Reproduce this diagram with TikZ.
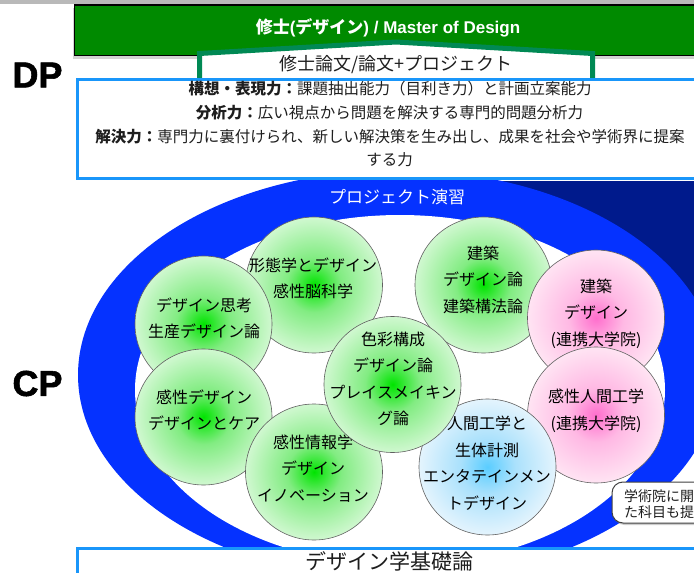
\documentclass[tikz,border=0pt]{standalone}
\usepackage{fontspec}
\setmainfont{Noto Sans CJK JP}
\newfontfamily\lsans{Liberation Sans}
\newfontfamily\heavy[FakeBold=1.6]{Liberation Sans Bold}
\usetikzlibrary{shapes.geometric,shadows}
\definecolor{topgreen}{RGB}{0,138,0}
\definecolor{roofteal}{RGB}{0,137,84}
\definecolor{dpblue}{RGB}{25,150,250}
\definecolor{ringblue}{RGB}{5,50,255}
\definecolor{navyblue}{RGB}{0,26,140}
\definecolor{txt}{RGB}{30,30,30}
\definecolor{gc0}{RGB}{0,228,0}
\definecolor{gc1}{RGB}{130,236,130}
\definecolor{gc2}{RGB}{208,248,208}
\definecolor{pc0}{RGB}{255,110,205}
\definecolor{pc1}{RGB}{255,185,228}
\definecolor{pc2}{RGB}{255,228,243}
\definecolor{bc0}{RGB}{90,205,255}
\definecolor{bc1}{RGB}{170,225,252}
\definecolor{bc2}{RGB}{228,244,253}
\pgfdeclareradialshading{greenball}{\pgfpoint{0bp}{0bp}}{color(0bp)=(gc0); color(10bp)=(gc1); color(25bp)=(gc2); color(50bp)=(gc2)}
\pgfdeclareradialshading{pinkball}{\pgfpoint{0bp}{0bp}}{color(0bp)=(pc0); color(10bp)=(pc1); color(25bp)=(pc2); color(50bp)=(pc2)}
\pgfdeclareradialshading{blueball}{\pgfpoint{0bp}{0bp}}{color(0bp)=(bc0); color(10bp)=(bc1); color(25bp)=(bc2); color(50bp)=(bc2)}
\begin{document}
\begin{tikzpicture}[x=1pt,y=-1pt,
  ball/.style={ellipse, draw=gray!75!black, line width=0.6pt, inner sep=0pt, minimum width=137pt, minimum height=136pt, shade},
  gball/.style={ball, shading=greenball},
  pball/.style={ball, shading=pinkball},
  bball/.style={ball, shading=blueball},
  balltext/.style={align=center, inner sep=0pt, text=black, font=\fontsize{16}{26.5}\selectfont},
  dpline/.style={inner sep=0pt, text=txt, font=\fontsize{15.5}{18}\selectfont},
  biglabel/.style={inner sep=0pt, text=black, font=\heavy\fontsize{36}{36}\selectfont},
  bluebox/.style={draw=dpblue, line width=3pt, fill=white},
]
\useasboundingbox (0,0) rectangle (694,573);
\clip (0,0) rectangle (694,573);
% top gray bar
\fill[gray!55] (0,0) rectangle (694,3.5);
% green title box
\fill[topgreen, draw=black, line width=1.3pt, drop shadow={shadow xshift=-2pt, shadow yshift=-3pt, opacity=0.35}] (74.5,5) rectangle (712,55.5);
\node[inner sep=0pt, text=white, font=\bfseries\fontsize{17}{20}\selectfont] (mtitle) at (388,28) {修士{\lsans (}デザイン{\lsans ) / Master of Design}};
% roof pentagon
\draw[roofteal, line width=5pt, fill=white, line join=miter] (199.5,95) -- (199.5,53.5) -- (396,42) -- (592.5,53.5) -- (592.5,95) -- cycle;
\node[inner sep=0pt, text=txt, font=\fontsize{18}{20}\selectfont] (rooftext) at (396,64.5) {修士論文/論文+プロジェクト};
% navy background and ring
\fill[navyblue] (392,181) rectangle (700,340);
\fill[ringblue] (398,375) ellipse [x radius=320pt, y radius=205pt];
\fill[white] (400,390) ellipse [x radius=265pt, y radius=175pt];
\node[inner sep=0pt, text=white, font=\fontsize{17}{20}\selectfont] (proj) at (397,197) {プロジェクト演習};
% DP box
\draw[bluebox] (77.5,79.5) rectangle (708,178.5);
\node[dpline] (dpa) at (390,89) {{\bfseries 構想・表現力：}課題抽出能力（目利き力）と計画立案能力};
\node[dpline] (dpb) at (389.5,112.5) {{\bfseries 分析力：}広い視点から問題を解決する専門的問題分析力};
\node[dpline] (dpc) at (390,136.5) {{\bfseries 解決力：}専門力に裏付けられ、新しい解決策を生み出し、成果を社会や学術界に提案};
\node[dpline] (dpd) at (389.5,160) {する力};
% circles
\node[gball] (c1) at (314,285) {};
\node[balltext] (t1) at (313,278.5) {形態学とデザイン\\感性脳科学};
\node[gball] (c2) at (203.5,324) {};
\node[balltext] (t2) at (204,318.5) {デザイン思考\\生産デザイン論};
\node[gball] (c6) at (483.5,285) {};
\node[balltext] (t6) at (483,279.5) {建築\\デザイン論\\建築構法論};
\node[pball] (c7) at (596,318) {};
\node[balltext] (t7) at (596,313.5) {建築\\デザイン\\(連携大学院)};
\node[gball] (c3) at (203.5,417) {};
\node[balltext] (t3) at (204,410) {感性デザイン\\デザインとケア};
\node[gball] (c5) at (314,472) {};
\node[balltext] (t5) at (313,468.5) {感性情報学\\デザイン\\イノベーション};
\node[pball] (c8) at (596,415) {};
\node[balltext] (t8) at (596,411) {感性人間工学\\(連携大学院)};
\node[bball] (c9) at (487.5,467) {};
\node[balltext] (t9) at (487,463) {人間工学と\\生体計測\\エンタテインメン\\トデザイン};
\node[gball] (c4) at (392.5,384.5) {};
\node[balltext] (t4) at (393,379) {色彩構成\\デザイン論\\プレイスメイキン\\グ論};
% bottom box
\draw[bluebox] (77.5,548.5) rectangle (708,600);
\node[inner sep=0pt, text=txt, font=\fontsize{21}{24}\selectfont] (base) at (389,561) {デザイン学基礎論};
% callout
\draw[draw=gray!50!black, line width=1pt, fill=white, rounded corners=11pt, drop shadow={shadow xshift=1.5pt, shadow yshift=-2pt, opacity=0.4}] (612,482) rectangle (740,523);
\node[anchor=west, inner sep=0pt, text=txt, font=\fontsize{14}{16}\selectfont] (cl1) at (624,496) {学術院に開};
\node[anchor=west, inner sep=0pt, text=txt, font=\fontsize{14}{16}\selectfont] (cl2) at (624,512) {た科目も提};
% side labels
\node[biglabel] (dp) at (37.5,75) {DP};
\node[biglabel] (cp) at (37.5,383.5) {CP};
\end{tikzpicture}
\end{document}
